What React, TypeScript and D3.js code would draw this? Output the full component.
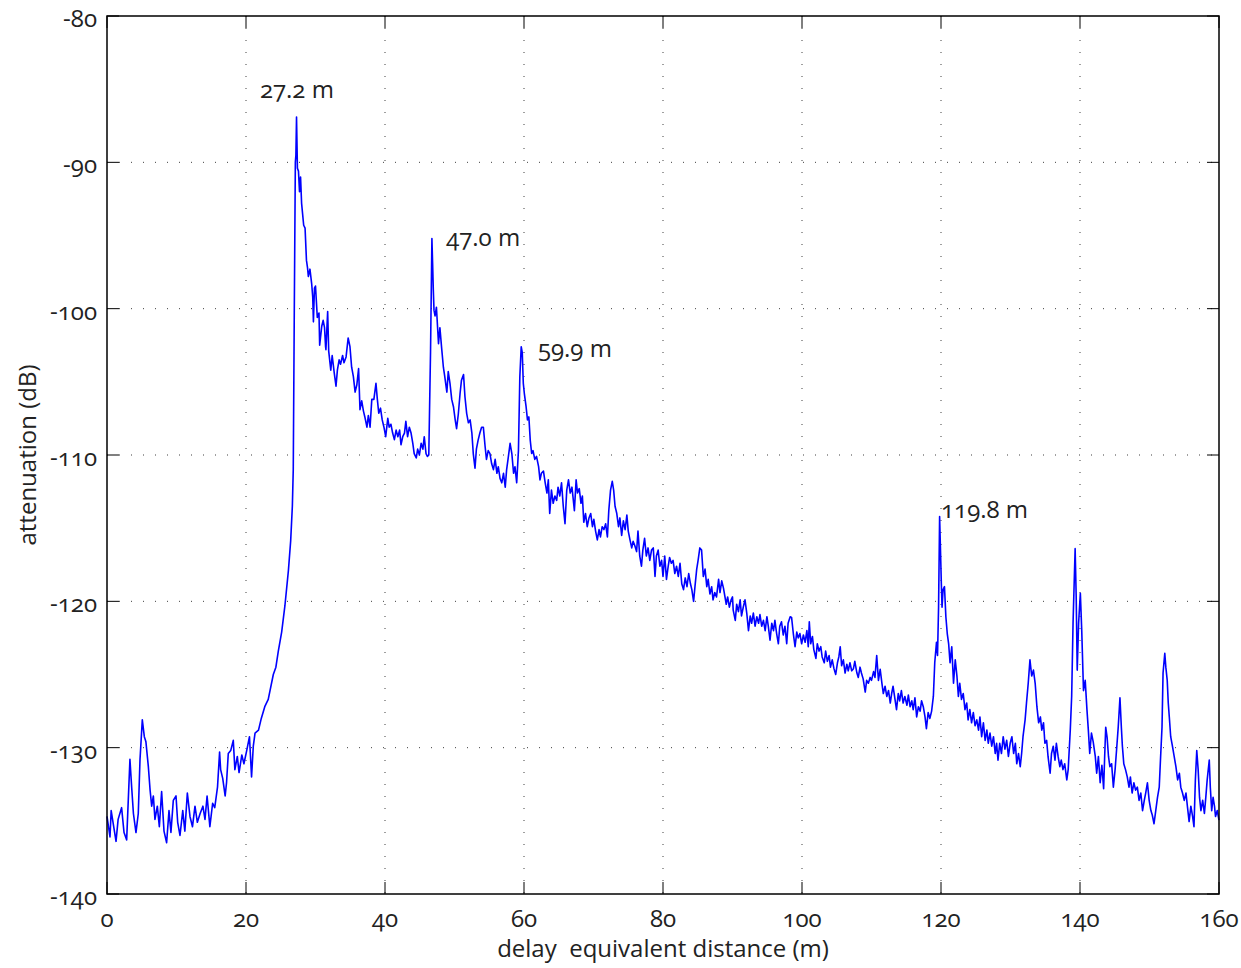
import React from "react";
import * as d3 from "d3";

// ---- data (distance in m, attenuation in dB) ----
const segNearField: [number, number][] = [
  [0,-134.7],[0.43,-136.1],[0.6,-134.3],[1.3,-136.4],[1.6,-134.9],[2.1,-134.1],[2.45,-135.8],[2.83,-136.3],[3.3,-130.8],[3.55,-132.7],[3.8,-134.5],[4.17,-135.8],[4.5,-134.5],[4.75,-130.8],[5.08,-128.1],[5.37,-129.25],[5.6,-129.6],[5.95,-131.3],[6.2,-132.9],[6.43,-134.0],[6.67,-133.3],[6.9,-134.9],[7.24,-134.0],[7.53,-135.4],[7.86,-133.0],[8.2,-135.7],[8.58,-136.5],[8.92,-134.3],[9.2,-135.8],[9.54,-133.6],[9.93,-133.3],[10.17,-135.1],[10.5,-136.0],[10.9,-134.3],[11.2,-135.7],[11.56,-133.1],[11.94,-134.7],[12.3,-135.4],[12.66,-134.0],[13.0,-135.1],[13.4,-134.5],[13.8,-134.0],[14.1,-134.9],[14.4,-133.3],[14.8,-135.4],[15.2,-133.8],[15.5,-134.1],[15.9,-132.7],[16.2,-130.3],[16.35,-131.5],[16.65,-132.1],[17.0,-133.3],[17.2,-132.4],[17.45,-130.4],[17.8,-130.2],[18.17,-129.5],[18.4,-131.5],[18.75,-130.6],[19.0,-131.7],[19.4,-130.5],[19.7,-131.1],[20.1,-130.2],[20.5,-129.25],[20.8,-132.0],[21.05,-129.9],[21.3,-129.0],[21.8,-128.8],[22.2,-128.0],[22.7,-127.2],[23.2,-126.7],
];

const segMainReflection: [number, number][] = [
  [23.93,-125.0],[24.3,-124.5],[24.65,-123.4],[25.13,-122.1],[25.6,-120.3],[26.1,-117.9],[26.43,-115.85],[26.67,-113.5],[26.8,-111.0],[26.95,-100],[27.1,-90.0],[27.18,-89.5],[27.27,-86.9],[27.4,-90.4],[27.55,-90.6],[27.7,-92.0],[27.85,-91.0],[28.0,-92.8],[28.3,-94.3],[28.5,-94.5],[28.7,-96.7],[28.85,-97.2],[28.97,-97.8],[29.2,-97.3],[29.45,-98.3],[29.6,-99.2],[29.7,-100.9],[29.85,-98.6],[30.0,-98.45],[30.26,-100.6],[30.5,-100.3],[30.6,-102.5],[30.9,-101.2],[31.1,-100.8],[31.3,-101.3],[31.45,-102.6],[31.5,-102.8],[31.75,-100.2],[31.9,-102.9],[32.2,-104.2],[32.4,-103.2],[32.7,-104.4],[32.95,-105.3],[33.15,-104.2],[33.4,-103.5],[33.6,-103.8],[33.9,-103.2],[34.1,-103.7],[34.4,-103.3],[34.7,-102.0],[34.96,-102.6],[35.2,-104.0],[35.45,-104.65],[35.7,-105.7],[35.95,-105.2],[36.2,-104.1],[36.4,-106.9],[36.65,-106.3],[36.9,-107.0],[37.1,-107.4],[37.4,-108.1],[37.6,-107.3],[37.85,-108.1],[38.1,-106.2],[38.4,-106.2],[38.7,-105.1],[38.9,-106.2],[39.1,-107.15],[39.35,-106.8],[39.6,-107.6],[39.85,-108.1],[40.1,-108.75],[40.4,-107.5],[40.6,-108.1],[40.85,-107.9],[41.1,-108.5],[41.35,-108.95],[41.6,-108.3],[41.85,-108.75],[42.1,-108.3],[42.3,-109.3],[42.55,-108.75],[42.8,-108.5],[43.0,-107.7],[43.25,-108.75],[43.5,-108.1],[43.75,-108.5],[44.0,-109.2],[44.2,-109.9],[44.5,-110.2],[44.7,-109.6],[44.95,-110.0],[45.2,-109.2],[45.45,-109.6],[45.65,-108.75],[45.9,-109.9],[46.1,-110.1],
];

const segMidReflections: [number, number][] = [
  [46.3,-110.0],[46.55,-103],[46.75,-95.2],[46.85,-96.9],[46.95,-98.7],[47.05,-100.1],[47.2,-100.5],[47.4,-99.9],[47.7,-102.4],[47.9,-101.3],[48.15,-102.7],[48.4,-104.0],[48.6,-104.65],[48.9,-105.7],[49.1,-104.3],[49.35,-105.1],[49.6,-106.2],[49.85,-106.7],[50.1,-107.6],[50.3,-108.2],[50.55,-107.2],[50.8,-105.8],[51.0,-104.9],[51.3,-104.5],[51.5,-106.0],[51.75,-107.15],[52.0,-107.8],[52.25,-107.6],[52.5,-108.5],[52.7,-109.9],[52.95,-110.9],[53.15,-109.6],[53.4,-108.98],[53.65,-108.5],[53.9,-108.1],[54.15,-108.1],[54.4,-109.4],[54.6,-110.3],[54.85,-109.7],[55.1,-109.9],[55.35,-110.6],[55.6,-111.0],[55.85,-110.3],[56.1,-111.25],[56.3,-110.8],[56.55,-111.6],[56.8,-111.9],[57.05,-111.25],[57.3,-112.2],[57.5,-111.0],[57.7,-110.3],[58.0,-109.2],[58.25,-109.9],[58.5,-111.25],[58.7,-110.8],[58.95,-111.9],[59.2,-109.7],[59.4,-104.65],[59.6,-102.6],[59.75,-103.0],[59.9,-105.1],[60.05,-105.8],[60.3,-106.7],[60.5,-107.6],[60.7,-107.4],[60.9,-109.0],[61.1,-109.9],[61.3,-109.7],[61.55,-110.3],[61.8,-110.1],[62.1,-110.8],
];

const segSlope: [number, number][] = [
  [62.3,-111.7],[62.5,-111.25],[62.8,-111.1],[63.05,-111.9],[63.3,-112.6],[63.5,-111.7],[63.7,-114.0],[63.95,-112.4],[64.2,-113.3],[64.45,-112.8],[64.7,-113.1],[64.9,-112.2],[65.15,-112.8],[65.4,-111.9],[65.65,-113.5],[65.9,-114.7],[66.15,-112.4],[66.4,-111.7],[66.65,-112.6],[66.9,-112.2],[67.1,-113.1],[67.25,-113.8],[67.5,-111.7],[67.7,-112.6],[67.95,-112.3],[68.2,-113.3],[68.4,-112.8],[68.6,-114.6],[68.85,-114.0],[69.1,-114.9],[69.35,-114.3],[69.6,-114.0],[69.85,-114.9],[70.05,-114.4],[70.3,-115.2],[70.55,-115.8],[70.8,-115.1],[71.0,-115.6],[71.25,-114.9],[71.5,-115.1],[71.75,-114.7],[72.0,-115.6],[72.2,-113.8],[72.45,-112.4],[72.7,-111.8],[72.9,-112.4],[73.1,-113.5],[73.35,-114.0],[73.6,-114.9],[73.8,-114.3],[74.05,-115.5],[74.3,-114.5],[74.55,-115.1],[74.8,-114.1],[75.0,-115.2],[75.25,-115.8],[75.5,-116.35],[75.7,-115.9],[75.95,-116.2],[76.2,-116.6],[76.4,-115.2],[76.65,-116.9],[76.9,-117.6],[77.1,-116.5],[77.35,-115.7],[77.6,-116.9],[77.85,-116.35],[78.1,-117.2],[78.35,-116.5],[78.6,-116.35],[78.85,-118.3],[79.05,-116.9],[79.3,-116.5],[79.55,-117.6],[79.8,-117.2],[80.0,-118.3],[80.25,-116.9],[80.5,-118.5],[80.75,-117.6],[80.95,-117.0],[81.2,-117.4],[81.45,-117.2],[81.7,-118.1],[81.95,-117.6],[82.2,-118.3],[82.45,-117.4],[82.7,-118.8],[82.95,-119.2],[83.2,-118.4],[83.45,-119.0],[83.7,-118.1],[83.95,-118.8],[84.15,-119.2],[84.4,-120.0],[84.6,-119.0],[84.85,-117.8],[85.05,-117.2],[85.3,-116.35],[85.55,-116.5],[85.8,-118.3],[86.05,-117.8],[86.3,-119.0],[86.5,-118.5],[86.75,-119.5],[87.0,-119.0],[87.2,-119.9],[87.45,-119.4],[87.7,-119.7],[88.0,-118.5],[88.2,-119.4],[88.45,-118.6],[88.7,-119.1],[89.1,-120.2],[89.3,-119.7],[89.55,-120.4],[89.8,-119.9],[90.0,-119.7],[90.1,-120.6],[90.4,-121.3],[90.6,-120.2],[90.85,-120.7],[91.1,-119.9],[91.3,-121.0],[91.55,-120.4],[91.8,-119.9],[92.05,-120.8],[92.3,-122.0],[92.55,-121.0],[92.75,-121.5],[93.0,-120.8],[93.25,-121.7],[93.5,-121.05],[93.75,-121.5],[93.95,-120.9],[94.2,-121.7],[94.45,-121.3],[94.7,-122.0],[94.95,-121.05],[95.15,-121.7],[95.4,-122.65],[95.65,-121.5],[95.9,-122.0],[96.1,-121.3],[96.35,-122.2],[96.6,-122.9],[96.8,-121.7],
];

const segFarSlope: [number, number][] = [
  [97.05,-121.4],[97.3,-122.3],[97.55,-121.7],[97.8,-122.9],[98.0,-121.5],[98.3,-121.05],[98.5,-121.1],[98.75,-122.2],[99.0,-123.1],[99.25,-122.1],[99.45,-122.5],[99.7,-122.2],[99.95,-122.9],[100.2,-122.3],[100.45,-122.8],[100.7,-122.0],[100.9,-123.1],[101.05,-121.4],[101.25,-122.9],[101.5,-122.4],[101.7,-123.3],[102.0,-123.9],[102.2,-122.9],[102.45,-123.4],[102.7,-123.1],[102.9,-123.8],[103.2,-124.2],[103.4,-123.4],[103.65,-124.1],[103.9,-123.7],[104.1,-124.5],[104.35,-124.0],[104.6,-124.6],[104.85,-125.0],[105.1,-124.2],[105.3,-123.8],[105.5,-123.1],[105.7,-124.4],[105.95,-124.0],[106.2,-124.9],[106.45,-124.3],[106.65,-124.75],[106.9,-124.2],[107.15,-124.75],[107.4,-124.6],[107.6,-124.1],[107.9,-124.9],[108.1,-125.2],[108.35,-124.5],[108.55,-124.9],[108.8,-125.3],[109.1,-126.2],[109.3,-125.4],[109.55,-125.6],[109.8,-125.2],[110.0,-125.4],[110.3,-124.8],[110.5,-125.2],[110.75,-123.7],[111.0,-125.4],[111.25,-124.65],[111.5,-125.6],[111.7,-126.3],[111.95,-125.8],[112.2,-126.5],[112.45,-126.1],[112.7,-126.95],[112.9,-126.3],[113.1,-125.8],[113.35,-126.6],[113.6,-127.4],[113.85,-126.3],[114.05,-126.8],[114.3,-126.1],[114.55,-126.95],[114.8,-126.5],[115.1,-127.1],[115.3,-126.4],[115.55,-127.2],[115.8,-126.8],[116.0,-127.4],[116.25,-126.6],[116.5,-127.9],[116.75,-127.2],[117.0,-127.5],[117.2,-126.8],[117.45,-127.2],[117.7,-127.9],[117.9,-128.7],[118.15,-127.6],[118.4,-128.0],[118.65,-127.5],[118.9,-126.5],
];

const segFarReflections: [number, number][] = [
  [119.1,-124.2],[119.35,-122.8],[119.5,-123.7],[119.65,-120.4],[119.8,-114.2],[119.9,-116.0],[120.05,-118.8],[120.15,-120.4],[120.3,-119.2],[120.5,-119.0],[120.7,-121.05],[120.9,-122.2],[121.1,-122.9],[121.3,-124.2],[121.55,-123.1],[121.8,-125.6],[122.05,-124.0],[122.3,-125.15],[122.5,-126.5],[122.7,-125.6],[122.95,-126.7],[123.2,-126.3],[123.45,-127.4],[123.7,-126.95],[123.9,-128.1],[124.15,-127.4],[124.4,-128.3],[124.65,-127.6],[124.9,-128.5],[125.15,-128.1],[125.4,-128.8],[125.6,-127.9],[125.85,-129.25],[126.1,-128.3],[126.35,-129.5],[126.6,-128.8],[126.8,-129.7],[127.05,-129.0],[127.3,-129.9],[127.55,-129.25],[127.8,-130.4],[128.0,-129.7],[128.2,-130.85],[128.45,-129.7],[128.7,-130.4],[128.95,-129.25],[129.2,-130.1],[129.45,-129.5],[129.7,-130.6],[129.95,-129.7],[130.2,-129.25],[130.45,-130.4],[130.7,-129.7],[130.9,-131.1],[131.15,-130.4],[131.4,-131.3],[131.6,-130.4],[131.8,-129.25],[132.1,-128.1],[132.3,-126.95],[132.55,-125.6],[132.8,-124.0],[133.05,-125.1],[133.3,-124.7],[133.55,-125.6],[133.8,-127.2],[134.05,-128.3],[134.3,-127.9],[134.5,-128.8],[134.75,-128.3],[134.95,-129.7],[135.2,-129.5],[135.4,-130.6],[135.7,-131.75],[135.9,-130.4],[136.15,-129.9],[136.4,-130.85],[136.6,-129.7],[136.85,-130.6],[137.1,-131.3],[137.3,-130.85],[137.55,-131.5],[137.8,-131.1],[138.1,-132.2],[138.3,-131.5],[138.6,-128.8],[138.8,-126.5],[139.0,-121.5],[139.3,-116.4],[139.45,-119.6],[139.6,-124.7],[139.8,-121.5],[140.05,-119.45],[140.25,-122.0],[140.5,-126.1],[140.75,-125.4],[141.0,-127.4],[141.2,-128.8],[141.4,-130.4],[141.65,-129.0],[141.9,-129.6],[142.2,-130.6],[142.4,-131.75],[142.65,-130.6],[142.9,-132.4],[143.15,-131.2],[143.4,-132.8],[143.55,-130.6],[143.7,-128.6],[143.9,-129.3],[144.1,-130.6],[144.3,-131.3],[144.55,-131.1],[144.8,-132.7],[145.05,-131.5],[145.3,-129.9],[145.5,-128.6],[145.75,-126.6],[145.95,-128.6],[146.1,-129.9],[146.3,-131.1],[146.55,-131.5],[146.8,-132.0],[147.05,-132.7],[147.25,-132.0],[147.5,-133.1],[147.75,-132.4],[148.0,-132.9],[148.25,-132.7],[148.5,-133.6],[148.75,-133.1],[149.0,-134.3],[149.25,-133.6],[149.45,-133.1],[149.7,-132.4],[149.95,-133.6],[150.2,-134.3],[150.4,-134.6],[150.65,-135.2],[150.9,-134.3],[151.15,-133.4],[151.4,-132.7],[151.6,-130.6],[151.8,-128.6],[151.95,-124.9],[152.2,-123.55],[152.35,-124.5],[152.55,-125.4],[152.7,-126.95],[152.85,-127.9],[153.05,-129.25],[153.3,-129.9],[153.55,-130.6],[153.8,-131.3],[154.05,-132.2],[154.3,-131.75],[154.5,-132.7],[154.75,-133.1],[155.0,-133.6],[155.25,-133.1],[155.45,-134.0],[155.7,-135.05],[155.95,-134.0],[156.2,-134.7],[156.4,-135.4],[156.6,-132.2],[156.8,-130.2],[157.0,-131.5],[157.2,-133.4],[157.4,-134.3],[157.65,-133.6],[157.9,-134.5],[158.1,-133.4],[158.3,-132.2],[158.6,-130.85],[158.75,-132.7],[158.95,-134.3],[159.15,-133.4],[159.35,-134.0],[159.5,-134.7],[159.75,-134.3],[160.0,-134.95],
];

const xTicks = [0, 20, 40, 60, 80, 100, 120, 140, 160];
const yTicks = [-140, -130, -120, -110, -100, -90, -80];

const peakLabels = [
  { text: "27.2 m", distance: 22.0, db: -85.6 },
  { text: "47.0 m", distance: 48.8, db: -95.7 },
  { text: "59.9 m", distance: 62.0, db: -103.3 },
  { text: "119.8 m", distance: 120.0, db: -114.3 },
];

const xLabel = "delay  equivalent distance (m)";
const yLabel = "attenuation (dB)";

// ---- layout ----
const W = 1241;
const H = 968;
const M = { left: 107, right: 1219, top: 16, bottom: 894 };
const FONT = "'Open Sans', Lato, sans-serif";
const fontStyle: React.CSSProperties = {
  fontFamily: FONT,
  fontSize: 24,
  fontVariantNumeric: "oldstyle-nums",
  fontFeatureSettings: "'onum' 1",
  whiteSpace: "pre",
};

export default function App() {
  const x = d3.scaleLinear().domain([0, 160]).range([M.left, M.right]);
  const y = d3.scaleLinear().domain([-140, -80]).range([M.bottom, M.top]);

  const all = [
    ...segNearField,
    ...segMainReflection,
    ...segMidReflections,
    ...segSlope,
    ...segFarSlope,
    ...segFarReflections,
  ];
  const line = d3
    .line<[number, number]>()
    .x((d) => x(d[0]))
    .y((d) => y(d[1]));

  const tickLen = 12;
  const gridStyle = { stroke: "#000", strokeWidth: 1, strokeDasharray: "1 11", opacity: 0.75 };

  return (
    <svg
      width={W}
      height={H}
      style={{ position: "absolute", left: 0, top: 0, background: "#fff" }}
    >
      <rect x={0} y={0} width={W} height={H} fill="#fff" />
      {/* grid */}
      {xTicks.slice(1, -1).map((t) => (
        <line key={"gx" + t} x1={x(t)} x2={x(t)} y1={M.top} y2={M.bottom} {...gridStyle} />
      ))}
      {yTicks.slice(1, -1).map((t) => (
        <line key={"gy" + t} x1={M.left} x2={M.right} y1={y(t)} y2={y(t)} {...gridStyle} />
      ))}
      {/* ticks (inward, all four sides) */}
      {xTicks.map((t) => (
        <g key={"tx" + t} stroke="#000" strokeWidth={1}>
          <line x1={x(t)} x2={x(t)} y1={M.bottom} y2={M.bottom - tickLen} />
          <line x1={x(t)} x2={x(t)} y1={M.top} y2={M.top + tickLen} />
        </g>
      ))}
      {yTicks.map((t) => (
        <g key={"ty" + t} stroke="#000" strokeWidth={1}>
          <line x1={M.left} x2={M.left + tickLen} y1={y(t)} y2={y(t)} />
          <line x1={M.right} x2={M.right - tickLen} y1={y(t)} y2={y(t)} />
        </g>
      ))}
      {/* data */}
      <path d={line(all) || ""} fill="none" stroke="#0000ff" strokeWidth={1.6} strokeLinejoin="round" />
      {/* frame */}
      <rect
        x={M.left}
        y={M.top}
        width={M.right - M.left}
        height={M.bottom - M.top}
        fill="none"
        stroke="#000"
        strokeWidth={1.5}
      />
      {/* tick labels */}
      {xTicks.map((t) => (
        <text key={"lx" + t} x={x(t)} y={M.bottom + 33} textAnchor="middle" fill="#222" style={fontStyle}>
          {String(t)}
        </text>
      ))}
      {yTicks.map((t) => (
        <text key={"ly" + t} x={M.left - 10} y={y(t) + 11} textAnchor="end" fill="#222" style={fontStyle}>
          {String(t)}
        </text>
      ))}
      {/* peak annotations */}
      {peakLabels.map((p) => (
        <text key={p.text} x={x(p.distance)} y={y(p.db)} fill="#222" style={fontStyle}>
          {p.text}
        </text>
      ))}
      {/* axis titles */}
      <text x={(M.left + M.right) / 2} y={957} textAnchor="middle" fill="#222" style={fontStyle}>
        {xLabel}
      </text>
      <text
        transform={`translate(36, ${(M.top + M.bottom) / 2}) rotate(-90)`}
        textAnchor="middle"
        fill="#222"
        style={fontStyle}
      >
        {yLabel}
      </text>
    </svg>
  );
}
